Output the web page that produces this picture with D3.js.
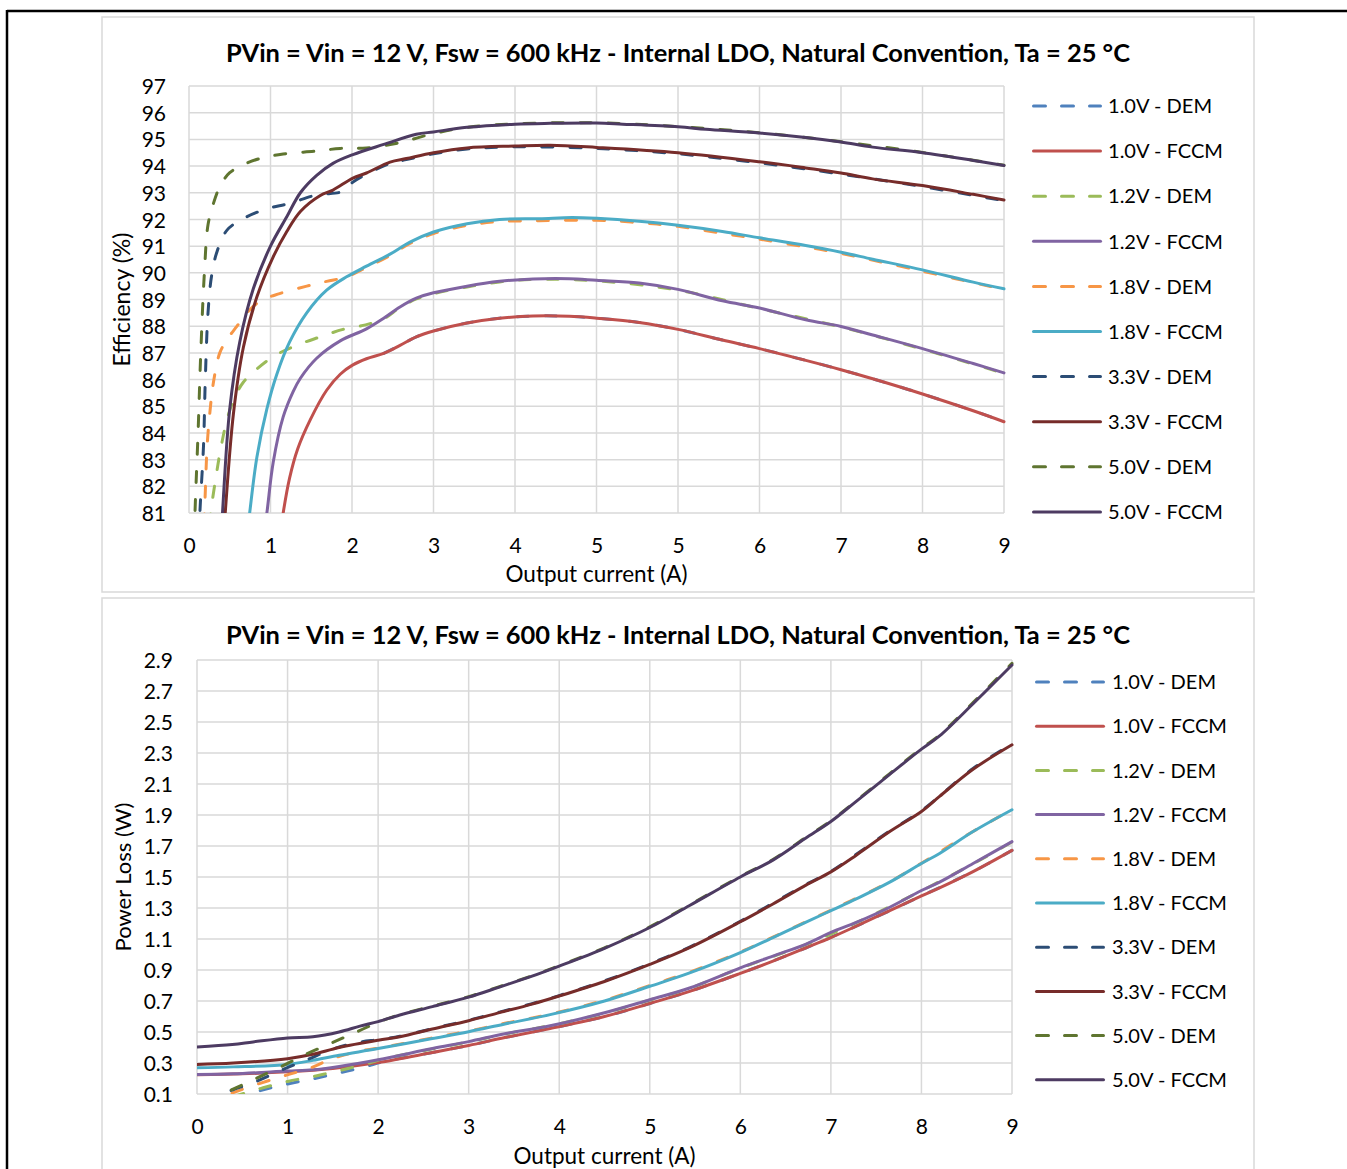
<!DOCTYPE html>
<html>
<head>
<meta charset="utf-8">
<script src="https://cdn.jsdelivr.net/npm/d3@7"></script>
<style>
  html, body { margin: 0; padding: 0; background: #fff; }
  svg { display: block; }
  text { font-family: Lato, "Open Sans", "Noto Sans", sans-serif; fill: #000; }
</style>
</head>
<body>
<svg id="chart" width="1347" height="1169"></svg>
<script>
// ---- Series definitions ----
const seriesNames  = ["1.0V - DEM", "1.0V - FCCM", "1.2V - DEM", "1.2V - FCCM", "1.8V - DEM",
                      "1.8V - FCCM", "3.3V - DEM", "3.3V - FCCM", "5.0V - DEM", "5.0V - FCCM"];
const seriesColors = ["#4F81BD", "#C0504D", "#9BBB59", "#8064A2", "#F79646",
                      "#4BACC6", "#2C4D75", "#772C2A", "#5F7530", "#4D3B62"];
const seriesDashed = [true, false, true, false, true, false, true, false, true, false];

const chartTitle = "PVin = Vin = 12 V, Fsw = 600 kHz - Internal LDO, Natural Convention, Ta = 25 °C";
const xAxisTitle = "Output current (A)";

// ---- Efficiency (%) vs output current (A) ----
const effXTicks = [0, 0.9, 1.8, 2.7, 3.6, 4.5, 5.4, 6.3, 7.2, 8.1, 9];
const effXTickLabels = ["0", "1", "2", "3", "4", "5", "5", "6", "7", "8", "9"];
const effYTicks = [81, 82, 83, 84, 85, 86, 87, 88, 89, 90, 91, 92, 93, 94, 95, 96, 97];

const effDem10 = [[2.15,86.98],[2.33,87.28],[2.51,87.6],[2.7,87.82],[3.07,88.12],[3.43,88.3],[3.8,88.38],
  [4.2,88.37],[4.5,88.3],[4.97,88.14],[5.4,87.88],[5.89,87.48],[6.3,87.16],[6.81,86.72],[7.2,86.37],
  [7.55,86.03],[8.1,85.46],[8.66,84.83],[9.0,84.42]];
const effFccm10 = [[0.98,79.5],[1.04,81.0],[1.11,82.3],[1.2,83.4],[1.34,84.5],[1.52,85.6],[1.67,86.2],
  [1.81,86.55],[1.96,86.78],[2.15,86.98],[2.33,87.28],[2.51,87.6],[2.7,87.82],[3.07,88.12],[3.43,88.3],
  [3.8,88.38],[4.2,88.37],[4.5,88.3],[4.97,88.14],[5.4,87.88],[5.89,87.48],[6.3,87.16],[6.81,86.72],
  [7.2,86.37],[7.55,86.03],[8.1,85.46],[8.66,84.83],[9.0,84.42]];
const effDem12 = [[0.2,79.5],[0.24,81.0],[0.3,82.4],[0.35,83.4],[0.42,84.5],[0.5,85.3],[0.6,85.9],
  [0.75,86.4],[0.95,86.9],[1.2,87.3],[1.45,87.6],[1.7,87.88],[1.95,88.05],[2.15,88.28],[2.33,88.7],
  [2.51,89.02],[2.7,89.22],[3.07,89.47],[3.43,89.66],[3.8,89.75],[4.5,89.7],[5.4,89.35],[6.3,88.66],
  [7.2,87.97],[8.1,87.14],[9.0,86.23]];
const effFccm12 = [[0.8,79.5],[0.86,81.0],[0.93,82.9],[1.04,84.6],[1.15,85.55],[1.23,86.05],[1.41,86.8],
  [1.67,87.45],[1.96,87.9],[2.15,88.3],[2.33,88.72],[2.51,89.05],[2.7,89.25],[3.07,89.5],[3.43,89.68],
  [3.8,89.77],[4.2,89.78],[4.5,89.72],[4.97,89.62],[5.4,89.38],[5.89,88.95],[6.3,88.68],[6.81,88.24],
  [7.2,87.99],[7.55,87.67],[8.1,87.16],[8.66,86.6],[9.0,86.25]];
const effDem18 = [[0.14,79.5],[0.17,81.0],[0.2,83.5],[0.23,84.75],[0.27,85.9],[0.34,87.0],[0.42,87.5],
  [0.53,88.0],[0.64,88.5],[0.79,88.95],[1.0,89.22],[1.3,89.5],[1.52,89.68],[1.74,89.85],[1.96,90.2],
  [2.22,90.65],[2.44,91.1],[2.7,91.47],[3.07,91.78],[3.43,91.92],[3.87,91.95],[4.5,91.97],[4.97,91.88],
  [5.4,91.74],[5.89,91.48],[6.3,91.26],[6.81,90.97],[7.2,90.73],[8.1,90.06],[9.0,89.37]];
const effFccm18 = [[0.62,79.5],[0.67,81.0],[0.75,83.1],[0.86,84.9],[0.97,86.2],[1.11,87.4],[1.3,88.5],
  [1.52,89.35],[1.74,89.85],[1.96,90.25],[2.22,90.7],[2.44,91.15],[2.7,91.53],[3.07,91.84],[3.43,92.0],
  [3.87,92.03],[4.23,92.07],[4.5,92.04],[4.97,91.93],[5.4,91.78],[5.89,91.55],[6.3,91.31],[6.81,91.02],
  [7.2,90.77],[7.55,90.51],[8.1,90.11],[8.66,89.65],[9.0,89.4]];
const effDem33 = [[0.1,79.0],[0.12,81.0],[0.16,83.5],[0.18,86.0],[0.21,88.5],[0.25,89.9],[0.31,90.8],
  [0.42,91.6],[0.6,92.03],[0.86,92.4],[1.11,92.6],[1.41,92.92],[1.67,93.02],[1.74,93.17],[1.81,93.4],
  [1.96,93.7],[2.22,94.1],[2.4,94.24],[2.7,94.46],[3.07,94.64],[3.6,94.72],[4.5,94.66],[5.4,94.46],
  [6.3,94.12],[7.2,93.7],[8.1,93.23],[9.0,92.7]];
const effFccm33 = [[0.36,79.0],[0.4,81.0],[0.49,84.7],[0.6,87.2],[0.75,89.1],[0.93,90.6],[1.08,91.55],
  [1.23,92.3],[1.45,92.9],[1.59,93.1],[1.81,93.55],[1.96,93.74],[2.22,94.15],[2.4,94.28],[2.7,94.5],
  [3.07,94.68],[3.6,94.75],[3.99,94.78],[4.5,94.7],[5.4,94.5],[6.3,94.16],[6.81,93.93],[7.2,93.74],
  [7.55,93.52],[8.1,93.27],[8.66,92.94],[9.0,92.73]];
const effDem50 = [[0.05,79.0],[0.066,81.0],[0.1,84.0],[0.13,87.0],[0.17,90.0],[0.21,91.8],[0.27,92.6],
  [0.35,93.3],[0.45,93.75],[0.6,94.05],[0.8,94.3],[1.04,94.45],[1.4,94.56],[1.67,94.66],[1.96,94.68],
  [2.33,94.88],[2.7,95.22],[3.07,95.45],[3.6,95.58],[4.5,95.62],[5.4,95.48],[6.3,95.25],[7.2,94.91],
  [8.1,94.51],[9.0,94.03]];
const effFccm50 = [[0.33,78.5],[0.37,81.0],[0.45,84.9],[0.56,87.4],[0.71,89.4],[0.9,91.0],[1.08,92.1],
  [1.23,93.0],[1.41,93.65],[1.59,94.1],[1.81,94.43],[2.15,94.81],[2.51,95.19],[2.7,95.28],[3.07,95.45],
  [3.6,95.57],[3.99,95.6],[4.5,95.61],[4.79,95.57],[5.4,95.47],[5.71,95.38],[6.3,95.24],[6.81,95.07],
  [7.2,94.9],[7.55,94.71],[8.1,94.5],[8.66,94.21],[9.0,94.02]];

// ---- Power loss (W) vs output current (A) ----
const lossXTicks = [0, 1, 2, 3, 4, 5, 6, 7, 8, 9];
const lossXTickLabels = ["0", "1", "2", "3", "4", "5", "6", "7", "8", "9"];
const lossYTicks = [0.1, 0.3, 0.5, 0.7, 0.9, 1.1, 1.3, 1.5, 1.7, 1.9, 2.1, 2.3, 2.5, 2.7, 2.9];

const lossDem10 = [[0.1,0.03],[0.4,0.074],[0.7,0.122],[1.0,0.165],[1.3,0.2],[1.6,0.24],[1.87,0.278],
  [2.05,0.308],[2.6,0.368],[3.0,0.413],[3.4,0.464],[3.9,0.523],[4.5,0.6],[5.0,0.684],[5.44,0.762],
  [6.0,0.878],[6.72,1.042],[7.28,1.183],[8.0,1.378],[8.57,1.535],[9.0,1.672]];
const lossFccm10 = [[0,0.224],[0.5,0.23],[1.0,0.243],[1.5,0.265],[2.0,0.303],[2.6,0.368],[3.0,0.413],
  [3.4,0.464],[3.9,0.523],[4.5,0.6],[5.0,0.684],[5.44,0.762],[6.0,0.878],[6.36,0.957],[6.72,1.042],
  [7.0,1.109],[7.28,1.183],[7.65,1.283],[8.0,1.378],[8.2,1.43],[8.57,1.535],[9.0,1.672]];
const lossDem12 = [[0.1,0.035],[0.4,0.083],[0.7,0.135],[1.0,0.181],[1.3,0.215],[1.6,0.255],[1.87,0.295],
  [2.0,0.318],[2.6,0.391],[3.0,0.436],[3.4,0.487],[4.0,0.553],[4.5,0.622],[5.0,0.706],[5.44,0.782],
  [6.0,0.912],[6.72,1.064],[7.28,1.205],[8.0,1.411],[8.57,1.585],[9.0,1.726]];
const lossFccm12 = [[0,0.226],[0.4,0.23],[1.0,0.248],[1.28,0.256],[1.57,0.278],[2.0,0.321],[2.6,0.393],
  [3.0,0.438],[3.4,0.489],[3.9,0.54],[4.5,0.624],[5.0,0.708],[5.44,0.784],[6.0,0.914],[6.36,0.99],
  [6.72,1.066],[7.0,1.142],[7.28,1.207],[7.65,1.305],[8.0,1.413],[8.2,1.467],[8.57,1.587],[9.0,1.728]];
const lossDem18 = [[0.1,0.04],[0.36,0.1],[0.65,0.16],[0.98,0.22],[1.27,0.272],[1.5,0.33],[1.83,0.38],
  [2.0,0.396],[2.6,0.462],[3.0,0.506],[3.4,0.556],[3.9,0.615],[4.5,0.705],[5.0,0.8],[5.44,0.886],
  [6.0,1.016],[6.36,1.112],[7.0,1.286],[7.65,1.469],[8.0,1.589],[8.57,1.794],[9.0,1.935]];
const lossFccm18 = [[0,0.269],[0.4,0.275],[1.0,0.291],[1.28,0.317],[1.57,0.35],[2.0,0.393],[2.6,0.458],
  [3.0,0.502],[3.4,0.552],[3.9,0.612],[4.5,0.7],[5.0,0.795],[5.44,0.881],[6.0,1.012],[6.36,1.109],
  [6.72,1.207],[7.0,1.283],[7.28,1.359],[7.65,1.467],[8.0,1.587],[8.2,1.652],[8.57,1.793],[9.0,1.934]];
const lossDem33 = [[0.1,0.045],[0.32,0.11],[0.64,0.178],[0.95,0.258],[1.23,0.325],[1.5,0.39],[1.8,0.435],
  [2.0,0.45],[2.24,0.472],[2.6,0.522],[3.0,0.576],[3.34,0.628],[3.7,0.683],[4.0,0.735],[4.5,0.83],
  [5.0,0.94],[5.44,1.048],[6.0,1.214],[6.72,1.45],[7.0,1.536],[7.65,1.797],[8.0,1.927],[8.57,2.2],[9.0,2.357]];
const lossFccm33 = [[0,0.291],[0.4,0.3],[1.0,0.328],[1.28,0.356],[1.57,0.4],[2.0,0.447],[2.24,0.469],
  [2.6,0.519],[3.0,0.573],[3.34,0.625],[3.7,0.68],[4.0,0.732],[4.5,0.826],[5.0,0.936],[5.44,1.044],
  [6.0,1.211],[6.36,1.326],[6.72,1.446],[7.0,1.533],[7.28,1.641],[7.65,1.793],[8.0,1.923],[8.2,2.02],
  [8.57,2.195],[9.0,2.353]];
const lossDem50 = [[0.1,0.05],[0.38,0.126],[0.64,0.197],[0.94,0.28],[1.21,0.358],[1.49,0.43],[1.76,0.5],
  [2.02,0.567],[2.24,0.612],[2.6,0.667],[3.0,0.728],[3.34,0.793],[3.7,0.863],[4.0,0.928],[4.5,1.043],
  [5.0,1.178],[5.44,1.32],[6.0,1.504],[6.36,1.613],[6.72,1.754],[7.0,1.862],[7.28,1.992],[7.65,2.167],
  [8.0,2.33],[8.2,2.416],[8.57,2.625],[9.0,2.878]];
const lossFccm50 = [[0,0.404],[0.39,0.419],[0.62,0.436],[1.0,0.462],[1.28,0.469],[1.57,0.5],[1.8,0.538],
  [2.0,0.567],[2.24,0.61],[2.6,0.664],[3.0,0.725],[3.34,0.79],[3.7,0.86],[4.0,0.925],[4.5,1.04],
  [5.0,1.174],[5.44,1.316],[6.0,1.5],[6.36,1.609],[6.72,1.75],[7.0,1.858],[7.28,1.988],[7.65,2.162],
  [8.0,2.325],[8.2,2.41],[8.57,2.618],[9.0,2.868]];

const effSeries  = [effDem10, effFccm10, effDem12, effFccm12, effDem18, effFccm18, effDem33, effFccm33, effDem50, effFccm50];
const lossSeries = [lossDem10, lossFccm10, lossDem12, lossFccm12, lossDem18, lossFccm18, lossDem33, lossFccm33, lossDem50, lossFccm50];

// ---- Drawing ----
const svg = d3.select("#chart");
const FONT = 'Lato, "Open Sans", "Noto Sans", sans-serif';
const TICK_FONT_SIZE = 21;

// Scale a text element's font size so its rendered width equals `target`.
function fitWidth(sel, target) {
  const w = sel.node().getComputedTextLength();
  const fs = parseFloat(sel.attr("font-size"));
  if (w > 0) sel.attr("font-size", (fs * target / w).toFixed(2));
}

// Outer page frame
svg.append("line").attr("x1", 7).attr("y1", 11).attr("x2", 1347).attr("y2", 11)
  .attr("stroke", "#000").attr("stroke-width", 2.5);
svg.append("line").attr("x1", 7).attr("y1", 10).attr("x2", 7).attr("y2", 1169)
  .attr("stroke", "#000").attr("stroke-width", 2.5);

function drawPanel(cfg, data) {
  const g = svg.append("g");
  const p = cfg.plot;

  // chart area border
  g.append("rect").attr("x", cfg.box.x).attr("y", cfg.box.y)
    .attr("width", cfg.box.w).attr("height", cfg.box.h)
    .attr("fill", "#fff").attr("stroke", "#d9d9d9").attr("stroke-width", 1.5);

  const x = d3.scaleLinear().domain(cfg.xDomain).range([p.left, p.right]);
  const y = d3.scaleLinear().domain(cfg.yDomain).range([p.bottom, p.top]);

  // gridlines
  g.append("g").selectAll("line").data(cfg.yTicks).join("line")
    .attr("x1", p.left).attr("x2", p.right)
    .attr("y1", d => y(d)).attr("y2", d => y(d))
    .attr("stroke", "#d9d9d9").attr("stroke-width", 1.5);
  g.append("g").selectAll("line").data(cfg.xTicks).join("line")
    .attr("y1", p.top).attr("y2", p.bottom)
    .attr("x1", d => x(d)).attr("x2", d => x(d))
    .attr("stroke", "#d9d9d9").attr("stroke-width", 1.5);

  // axes (labels only)
  const xAxis = d3.axisBottom(x).tickValues(cfg.xTicks)
    .tickFormat((d, i) => cfg.xLabels[i]).tickSize(0).tickPadding(25);
  const gx = g.append("g").attr("transform", `translate(0,${p.bottom})`).call(xAxis);
  gx.select(".domain").remove();
  gx.attr("font-family", FONT).attr("font-size", TICK_FONT_SIZE);
  gx.selectAll("text").attr("fill", "#000");

  const yAxis = d3.axisLeft(y).tickValues(cfg.yTicks)
    .tickFormat(cfg.yFormat).tickSize(0).tickPadding(cfg.yPad);
  const gy = g.append("g").attr("transform", `translate(${p.left},0)`).call(yAxis);
  gy.select(".domain").remove();
  gy.attr("font-family", FONT).attr("font-size", TICK_FONT_SIZE);
  gy.selectAll("text").attr("fill", "#000").attr("dy", "0.36em");

  // titles
  const t = g.append("text").attr("x", cfg.titleX).attr("y", cfg.titleY)
    .attr("text-anchor", "middle").attr("font-weight", "bold").attr("font-size", 22)
    .text(chartTitle);
  fitWidth(t, 904);

  const xt = g.append("text").attr("x", (p.left + p.right) / 2).attr("y", cfg.xTitleY)
    .attr("text-anchor", "middle").attr("font-size", 20).text(xAxisTitle);
  fitWidth(xt, 182);

  const yt = g.append("text")
    .attr("transform", `translate(${cfg.yTitleX},${(p.top + p.bottom) / 2}) rotate(-90)`)
    .attr("text-anchor", "middle").attr("dy", "0.35em").attr("font-size", 20).text(cfg.yTitle);
  fitWidth(yt, cfg.yTitleWidth);

  // series lines, clipped to the plot area
  const clipId = "clip-" + cfg.id;
  g.append("clipPath").attr("id", clipId).append("rect")
    .attr("x", p.left).attr("y", p.top - 3)
    .attr("width", p.right - p.left + 3).attr("height", p.bottom - p.top + 3);

  const line = d3.line().x(d => x(d[0])).y(d => y(d[1])).curve(d3.curveCatmullRom.alpha(0.5));
  g.append("g").attr("clip-path", `url(#${clipId})`)
    .selectAll("path").data(data).join("path")
    .attr("d", d => d.length ? line(d) : null)
    .attr("fill", "none")
    .attr("stroke", (d, i) => seriesColors[i])
    .attr("stroke-width", 3)
    .attr("stroke-linejoin", "round")
    .attr("stroke-linecap", "round")
    .attr("stroke-dasharray", (d, i) => seriesDashed[i] ? "11,17" : null);

  // legend
  const lg = g.append("g");
  const items = lg.selectAll("g").data(seriesNames).join("g")
    .attr("transform", (d, i) => `translate(0,${cfg.legend.y0 + i * cfg.legend.step})`);
  items.append("line")
    .attr("x1", cfg.legend.x1 + 1.5).attr("x2", cfg.legend.x2 - 1.5)
    .attr("y1", 0).attr("y2", 0)
    .attr("stroke", (d, i) => seriesColors[i]).attr("stroke-width", 3)
    .attr("stroke-linecap", "round")
    .attr("stroke-dasharray", (d, i) => seriesDashed[i] ? "12,16" : null);
  const labels = items.append("text")
    .attr("x", cfg.legend.tx).attr("y", 0).attr("dy", "0.36em")
    .attr("font-size", 20).text(d => d);
  // common legend font size, set from the "1.0V - FCCM" label
  const ref = labels.filter((d, i) => i === 1);
  fitWidth(ref, 115);
  labels.attr("font-size", ref.attr("font-size"));
}

drawPanel({
  id: "eff",
  box: { x: 102, y: 17, w: 1152, h: 575 },
  plot: { left: 189, right: 1004, top: 86, bottom: 513 },
  xDomain: [0, 9], yDomain: [81, 97],
  xTicks: effXTicks, xLabels: effXTickLabels,
  yTicks: effYTicks, yFormat: d3.format("d"), yPad: 23,
  titleX: 678, titleY: 62, xTitleY: 582,
  yTitle: "Efficiency (%)", yTitleX: 122, yTitleWidth: 134,
  legend: { x1: 1032, x2: 1102, tx: 1108, y0: 106, step: 45.1 }
}, effSeries);

drawPanel({
  id: "loss",
  box: { x: 102, y: 598, w: 1152, h: 600 },
  plot: { left: 197, right: 1012, top: 660, bottom: 1094 },
  xDomain: [0, 9], yDomain: [0.1, 2.9],
  xTicks: lossXTicks, xLabels: lossXTickLabels,
  yTicks: lossYTicks, yFormat: d3.format(".1f"), yPad: 24,
  titleX: 678, titleY: 644, xTitleY: 1164,
  yTitle: "Power Loss (W)", yTitleX: 123, yTitleWidth: 149,
  legend: { x1: 1035, x2: 1105, tx: 1112, y0: 682, step: 44.2 }
}, lossSeries);
</script>
</body>
</html>
